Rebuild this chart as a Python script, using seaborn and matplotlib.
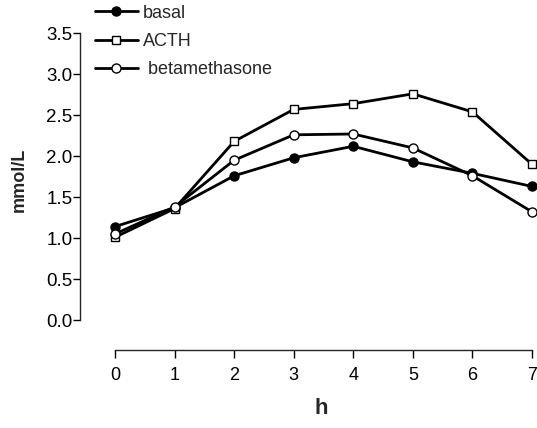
import pandas as pd
import matplotlib
matplotlib.use('Agg')
import matplotlib.pyplot as plt
import seaborn as sns

hours = [0, 1, 2, 3, 4, 5, 6, 7]
basal = [1.14, 1.37, 1.76, 1.98, 2.12, 1.93, 1.79, 1.63]
acth = [1.01, 1.36, 2.18, 2.57, 2.64, 2.76, 2.54, 1.90]
betamethasone = [1.05, 1.38, 1.95, 2.26, 2.27, 2.10, 1.76, 1.32]
labels = ['basal', 'ACTH', ' betamethasone']
yticks = [0, 0.5, 1, 1.5, 2, 2.5, 3, 3.5]


def main():
    df = data()
    plot(df)


def data():
    df = pd.concat([
        pd.DataFrame({'h': hours, 'v': basal, 'g': labels[0]}),
        pd.DataFrame({'h': hours, 'v': acth, 'g': labels[1]}),
        pd.DataFrame({'h': hours, 'v': betamethasone, 'g': labels[2]}),
    ])
    return df


def plot(df):
    sns.set_style('ticks')
    plt.rcParams['font.family'] = ['Liberation Sans', 'DejaVu Sans']

    W, H = 537, 428
    fig = plt.figure(figsize=(W / 100, H / 100), dpi=100)
    ax = fig.add_axes([80 / W, 1 - 350 / H, (532 - 80) / W, (350 - 25) / H])

    styles = {labels[0]: ('o', 'black', 6.5),
              labels[1]: ('s', 'white', 5.8),
              labels[2]: ('o', 'white', 6.5)}
    for g, (m, fc, ms) in styles.items():
        sub = df[df['g'] == g]
        sns.lineplot(data=sub, x='h', y='v', ax=ax, color='black', lw=2.0,
                     marker=m, mfc=fc, mec='black', mew=1.0, ms=ms,
                     label=g, clip_on=False, zorder=3)

    ax.set_xlim(-0.588, 7)
    ax.set_ylim(-0.366, 3.6)
    ax.set_xticks(hours)
    ax.set_yticks(yticks)
    ax.set_yticklabels(['%.1f' % t for t in yticks])
    ax.spines['left'].set_bounds(0, 3.5)
    ax.spines['bottom'].set_bounds(0, 7)
    for s in ['top', 'right']:
        ax.spines[s].set_visible(False)
    for s in ['left', 'bottom']:
        ax.spines[s].set_linewidth(1.0)
    ax.tick_params(axis='y', labelsize=13.5, length=5, width=1.0, pad=0.5,
                   colors='black')
    ax.tick_params(axis='x', labelsize=13, length=6, width=1.0, pad=6.5,
                   colors='black')

    ax.set_xlabel('h', fontsize=16, fontweight='bold')
    ax.xaxis.set_label_coords(321 / W, 1 - 409 / H, transform=fig.transFigure)
    ax.xaxis.label.set_verticalalignment('center')
    ax.set_ylabel('mmol/L', fontsize=13, fontweight='bold')
    ax.yaxis.set_label_coords(19 / W, 1 - 180 / H, transform=fig.transFigure)
    ax.yaxis.label.set_verticalalignment('center')

    ax.legend(loc='upper left', bbox_to_anchor=(93 / W, 1 - 3 / H),
              bbox_transform=fig.transFigure, frameon=False, fontsize=13,
              handlelength=2.4, labelspacing=0.62, handletextpad=0.28,
              borderpad=0.1, borderaxespad=0)

    fig.savefig('out.png', dpi=100)


if __name__ == '__main__':
    main()
